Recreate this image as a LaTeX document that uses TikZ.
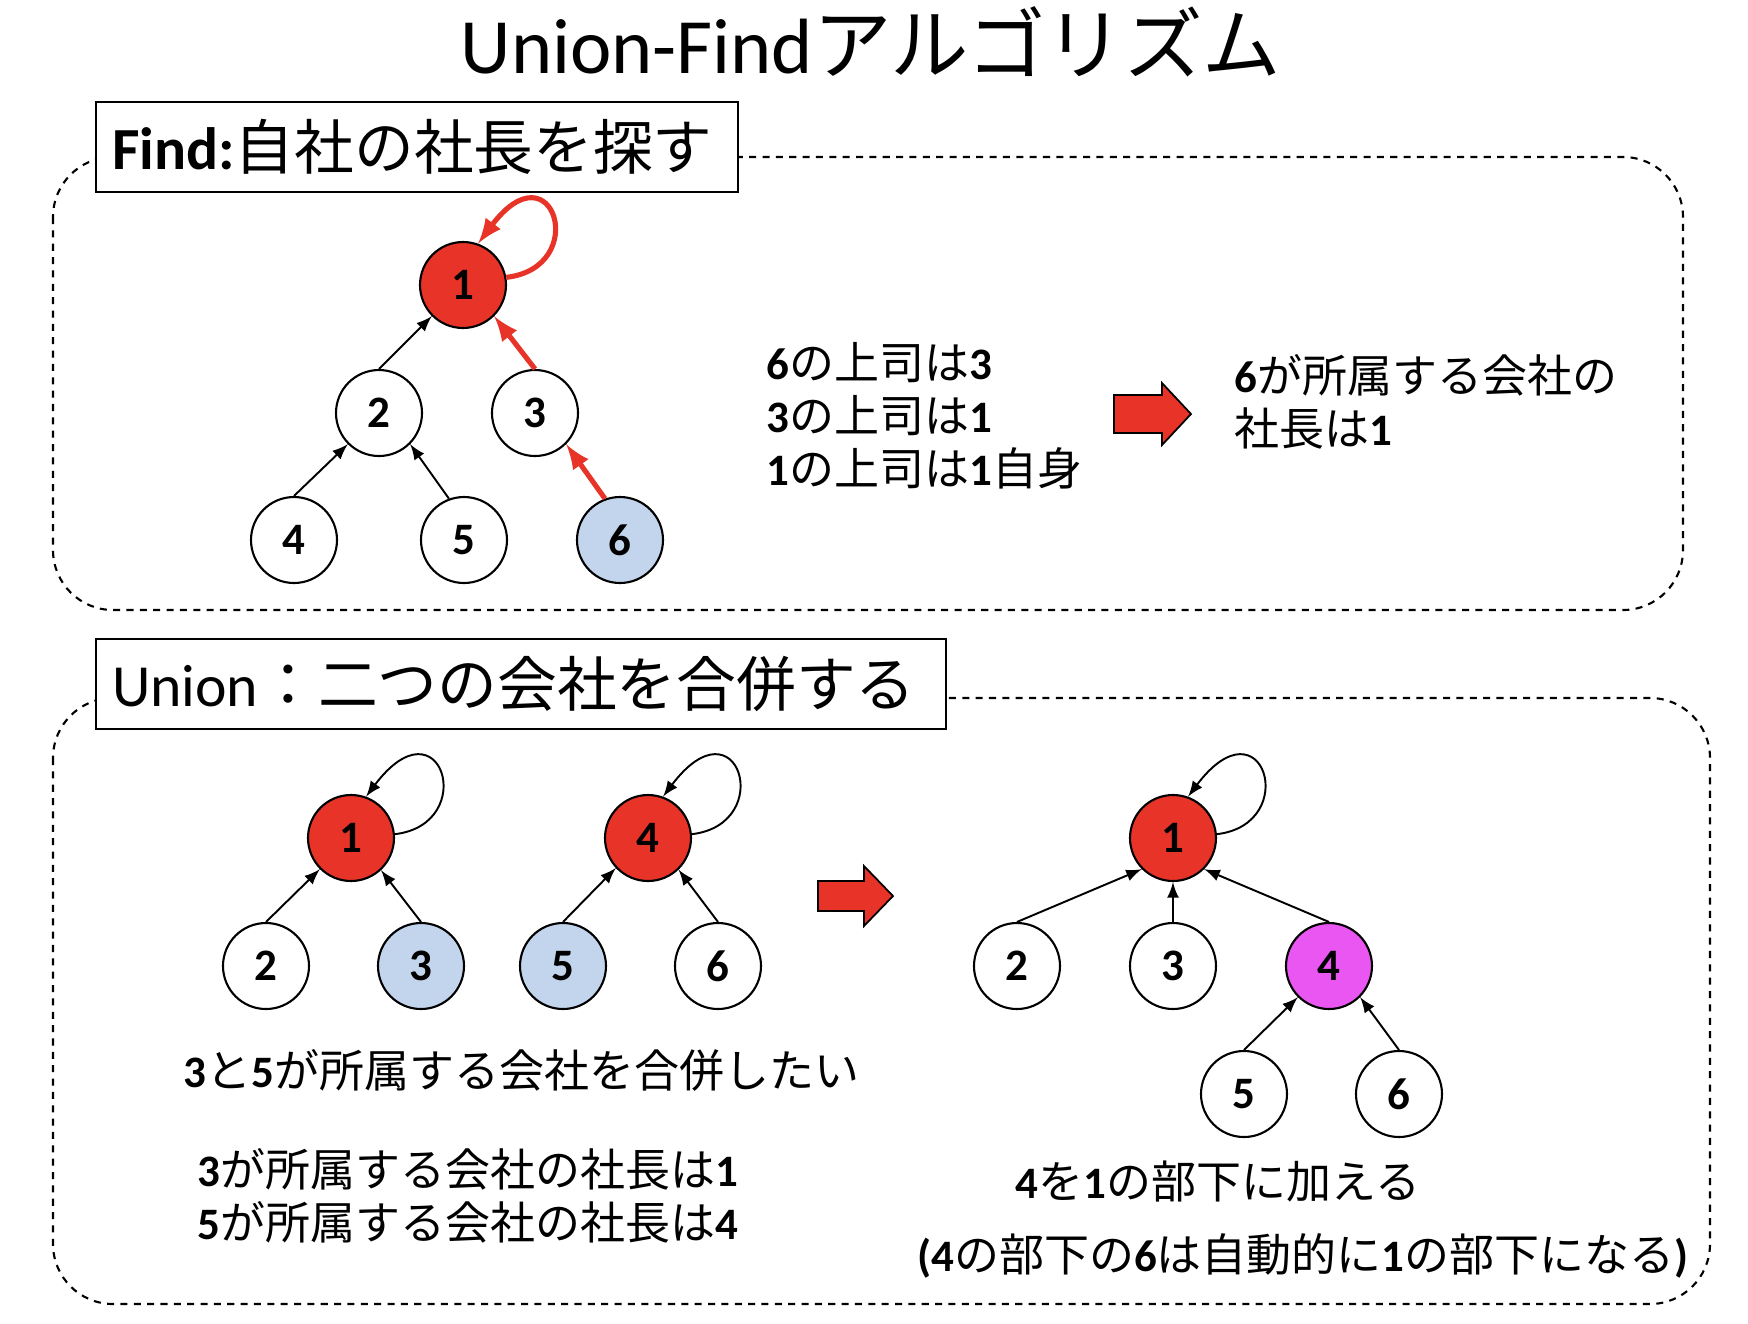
\documentclass[tikz,border=0pt]{standalone}
\usepackage{fontspec}
\setmainfont{Carlito}
\newfontfamily\jp{Noto Sans CJK JP}[BoldFont=*]
\usepackage{tikz}
\usetikzlibrary{arrows,shapes,calc}

\definecolor{bossred}{RGB}{232,52,40}
\definecolor{pickblue}{RGB}{194,213,236}
\definecolor{mergepink}{RGB}{234,86,242}

\tikzset{
  member/.style={circle,draw,line width=0.6pt,minimum size=0.86cm,inner sep=0pt,fill=white},
  boss/.style={member,fill=bossred},
  link/.style={->,line width=0.55pt},
  hot/.style={->,line width=1.45pt,color=bossred},
  headbox/.style={draw,fill=white,line width=0.6pt,anchor=north west,minimum height=0.9cm,
    inner xsep=0.16cm,align=left,font=\fontsize{17}{20}\selectfont},
  dashbox/.style={dash pattern=on 2pt off 1.8pt,line width=0.6pt,rounded corners=0.6cm},
  fatarrow/.style={draw,fill=bossred,line width=0.5pt},
  note/.style={anchor=base west,inner sep=0pt}
}

\begin{document}
\begin{tikzpicture}[>=latex,font=\fontsize{12.8}{15}\selectfont\bfseries]
\useasboundingbox (0,0) rectangle (17.48,-13.24);

\node[anchor=base,font=\fontsize{22.3}{26}\selectfont\mdseries] (title) at (8.71,-0.73) {Union-Find{\jp アルゴリズム}};

\draw[dashbox] (0.53,-1.57) rectangle (16.83,-6.10);
\node[headbox,text width=6.10cm] (findhead) at (0.95,-1.01) {\bfseries Find:{\jp 自社の社長を探す}};

\node[boss] (f1) at (4.63,-2.85) {1};
\node[member] (f2) at (3.79,-4.13) {2};
\node[member] (f3) at (5.35,-4.13) {3};
\node[member] (f4) at (2.94,-5.40) {4};
\node[member] (f5) at (4.64,-5.40) {5};
\node[member,fill=pickblue] (f6) at (6.20,-5.40) {6};
\path[link] (f2.north) edge (f1.225);
\path[link] (f4.north) edge (f2.225);
\path[link] (f5.110) edge (f2.-45);
\draw[hot] (f3.north) -- (f1.-45);
\draw[hot] (f6.110) -- (f3.-45);
\draw[hot] (f1.10) .. controls +(0.85,0.1) and +(0.75,1.0) .. (f1.70);

\node[note] (chain6) at (7.66,-3.79) {6{\jp の上司は}3};
\node[note] (chain3) at (7.66,-4.32) {3{\jp の上司は}1};
\node[note] (chain1) at (7.66,-4.85) {1{\jp の上司は}1{\jp 自身}};
\draw[fatarrow] (11.14,-3.95) -- (11.62,-3.95) -- (11.62,-3.83) -- (11.91,-4.14)
  -- (11.62,-4.45) -- (11.62,-4.33) -- (11.14,-4.33) -- cycle;
\node[note] (answer) at (12.34,-3.92) {6{\jp が所属する会社の}};
\node[note] (answer2) at (12.34,-4.45) {{\jp 社長は}1};

\draw[dashbox] (0.53,-6.98) rectangle (17.10,-13.04);
\node[headbox,text width=8.18cm] (unionhead) at (0.95,-6.38) {\mdseries Union{\jp ：二つの会社を合併する}};

\node[boss] (u1) at (3.51,-8.38) {1};
\node[member] (u2) at (2.66,-9.66) {2};
\node[member,fill=pickblue] (u3) at (4.21,-9.66) {3};
\node[boss] (u4) at (6.48,-8.38) {4};
\node[member,fill=pickblue] (u5) at (5.63,-9.66) {5};
\node[member] (u6) at (7.18,-9.66) {6};
\path[link] (u2.north) edge (u1.225);
\path[link] (u3.north) edge (u1.-47);
\path[link] (u5.north) edge (u4.223);
\path[link] (u6.north) edge (u4.-46);
\draw[link] (u1.5) .. controls +(0.85,0.1) and +(0.75,1.0) .. (u1.70);
\draw[link] (u4.5) .. controls +(0.85,0.1) and +(0.75,1.0) .. (u4.70);

\draw[fatarrow] (8.18,-8.81) -- (8.64,-8.81) -- (8.64,-8.66) -- (8.93,-8.96)
  -- (8.64,-9.26) -- (8.64,-9.11) -- (8.18,-9.11) -- cycle;

\node[boss] (r1) at (11.73,-8.38) {1};
\node[member] (r2) at (10.17,-9.66) {2};
\node[member] (r3) at (11.73,-9.66) {3};
\node[member,fill=mergepink] (r4) at (13.29,-9.66) {4};
\node[member] (r5) at (12.44,-10.94) {5};
\node[member] (r6) at (13.99,-10.94) {6};
\path[link] (r2.north) edge (r1.225);
\path[link] (r3.north) edge (r1.south);
\path[link] (r4.north) edge (r1.-45);
\path[link] (r5.north) edge (r4.225);
\path[link] (r6.north) edge (r4.-45);
\draw[link] (r1.5) .. controls +(0.85,0.1) and +(0.75,1.0) .. (r1.70);

\node[note] (wish) at (1.83,-10.87) {3{\jp と}5{\jp が所属する会社を合併したい}};
\node[note] (boss3) at (1.97,-11.86) {3{\jp が所属する会社の社長は}1};
\node[note] (boss5) at (1.97,-12.39) {5{\jp が所属する会社の社長は}4};
\node[note,anchor=base] (merge) at (12.18,-11.98) {4{\jp を}1{\jp の部下に加える}};
\node[note,anchor=base] (merge2) at (13.03,-12.71) {(4{\jp の部下の}6{\jp は自動的に}1{\jp の部下になる})};
\end{tikzpicture}
\end{document}
